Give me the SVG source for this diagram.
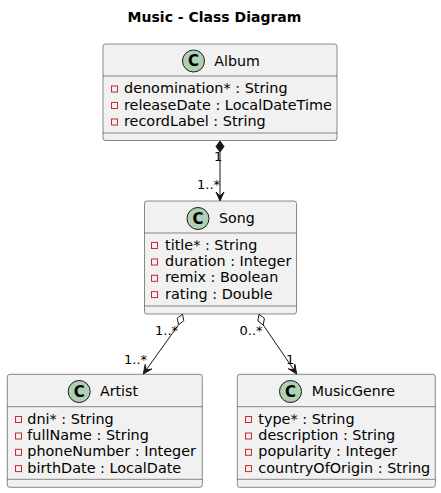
<svg xmlns="http://www.w3.org/2000/svg" width="441" height="493" viewBox="0 0 441 493">
<style>
text{font-family:"DejaVu Sans","Liberation Sans",sans-serif;fill:#000}
.box{fill:#F1F1F1;stroke:#181818;stroke-width:0.5}
.div{stroke:#181818;stroke-width:0.5}
.circ{fill:#ADD1B2;stroke:#181818;stroke-width:1}
.c{font-size:15px;font-weight:bold;text-anchor:middle}
.name{font-size:14.2px}
.attr{font-size:14.4px}
.vis{fill:none;stroke:#C82930;stroke-width:1}
.title{font-size:14px;font-weight:bold;text-anchor:middle}
.lbl{font-size:13px}
.ln{stroke:#181818;stroke-width:1;fill:none}
.head{fill:#181818;stroke:#181818;stroke-width:1}
.odiam{fill:#FFFFFF;stroke:#181818;stroke-width:1}
</style>
<rect width="441" height="493" fill="#FFFFFF"/>
<text class="title" x="214.5" y="22">Music - Class Diagram</text>

<g id="Album">
<rect class="box" x="103" y="44" width="234" height="96.5" rx="2.5"/>
<circle class="circ" cx="193.5" cy="61" r="11"/>
<text class="c" x="193.5" y="66.3">C</text>
<text class="name" x="214.3" y="66">Album</text>
<line class="div" x1="103" y1="76" x2="337" y2="76"/>
<rect class="vis" x="111.5" y="86" width="6" height="6"/>
<text class="attr" x="124" y="93">denomination* : String</text>
<rect class="vis" x="111.5" y="102.5" width="6" height="6"/>
<text class="attr" x="124" y="109.5">releaseDate : LocalDateTime</text>
<rect class="vis" x="111.5" y="119" width="6" height="6"/>
<text class="attr" x="124" y="126">recordLabel : String</text>
<line class="div" x1="103" y1="133" x2="337" y2="133"/>
</g>

<g id="Song">
<rect class="box" x="144.5" y="201" width="152" height="113" rx="2.5"/>
<circle class="circ" cx="198" cy="218.5" r="11"/>
<text class="c" x="198" y="223.8">C</text>
<text class="name" x="219" y="222.5">Song</text>
<line class="div" x1="144.5" y1="233" x2="296.5" y2="233"/>
<rect class="vis" x="151.5" y="242.5" width="6" height="6"/>
<text class="attr" x="165" y="249.5">title* : String</text>
<rect class="vis" x="151.5" y="259" width="6" height="6"/>
<text class="attr" x="165" y="266">duration : Integer</text>
<rect class="vis" x="151.5" y="275.3" width="6" height="6"/>
<text class="attr" x="165" y="282.3">remix : Boolean</text>
<rect class="vis" x="151.5" y="291.6" width="6" height="6"/>
<text class="attr" x="165" y="298.6">rating : Double</text>
<line class="div" x1="144.5" y1="306" x2="296.5" y2="306"/>
</g>

<g id="Artist">
<rect class="box" x="7.3" y="374.3" width="195" height="113" rx="2.5"/>
<circle class="circ" cx="79.2" cy="391.5" r="11"/>
<text class="c" x="79.2" y="396.8">C</text>
<text class="name" x="100" y="395.8">Artist</text>
<line class="div" x1="7.3" y1="406.7" x2="202.3" y2="406.7"/>
<rect class="vis" x="15.5" y="416.5" width="6" height="6"/>
<text class="attr" x="27.3" y="423.5">dni* : String</text>
<rect class="vis" x="15.5" y="433" width="6" height="6"/>
<text class="attr" x="27.3" y="440">fullName : String</text>
<rect class="vis" x="15.5" y="449.3" width="6" height="6"/>
<text class="attr" x="27.3" y="456.3">phoneNumber : Integer</text>
<rect class="vis" x="15.5" y="465.6" width="6" height="6"/>
<text class="attr" x="27.3" y="472.6">birthDate : LocalDate</text>
<line class="div" x1="7.3" y1="479.3" x2="202.3" y2="479.3"/>
</g>

<g id="MusicGenre">
<rect class="box" x="237.3" y="374.3" width="198" height="113" rx="2.5"/>
<circle class="circ" cx="290.5" cy="391.5" r="11"/>
<text class="c" x="290.5" y="396.8">C</text>
<text class="name" x="311.7" y="395.8">MusicGenre</text>
<line class="div" x1="237.3" y1="406.7" x2="435.3" y2="406.7"/>
<rect class="vis" x="245.5" y="416.5" width="6" height="6"/>
<text class="attr" x="258.3" y="423.5">type* : String</text>
<rect class="vis" x="245.5" y="433" width="6" height="6"/>
<text class="attr" x="258.3" y="440">description : String</text>
<rect class="vis" x="245.5" y="449.3" width="6" height="6"/>
<text class="attr" x="258.3" y="456.3">popularity : Integer</text>
<rect class="vis" x="245.5" y="465.6" width="6" height="6"/>
<text class="attr" x="258.3" y="472.6">countryOfOrigin : String</text>
<line class="div" x1="237.3" y1="479.3" x2="435.3" y2="479.3"/>
</g>

<g id="connectors">
<g id="album-song">
<line class="ln" x1="220" y1="152" x2="220" y2="200"/>
<polygon class="head" points="220,141 224,146.5 220,152 216,146.5"/>
<polygon class="head" points="220,201 224,192 220,196 216,192"/>
<text class="lbl" x="214" y="160.5">1</text>
<text class="lbl" x="197" y="189">1..*</text>
</g>
<g id="song-artist">
<line class="ln" x1="178.6" y1="324.6" x2="143.8" y2="373.3"/>
<polygon class="odiam" points="182.5,314.3 183.8,320.7 178.6,324.6 177.2,318.2"/>
<polygon class="head" points="143.3,374 151.8,369 146.2,369.9 145.2,364.4"/>
<text class="lbl" x="155" y="334.5">1..*</text>
<text class="lbl" x="124" y="363.5">1..*</text>
</g>
<g id="song-genre">
<line class="ln" x1="263.3" y1="325" x2="296.2" y2="373.3"/>
<polygon class="odiam" points="259,314.3 264.4,318.3 263.3,325 257.9,321"/>
<polygon class="head" points="296.7,374 294.9,364.3 293.9,369.9 288.3,368.8"/>
<text class="lbl" x="239.5" y="334.5">0..*</text>
<text class="lbl" x="286" y="363.5">1</text>
</g>
</g>
</svg>
